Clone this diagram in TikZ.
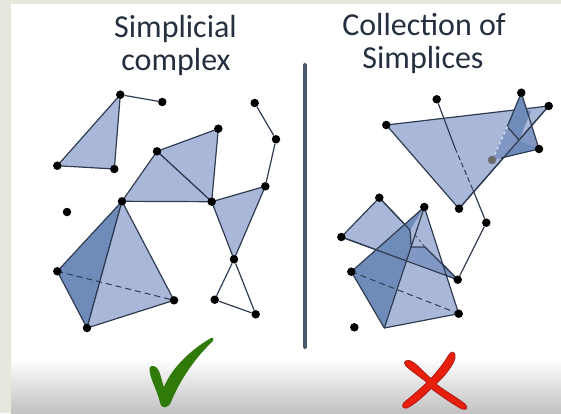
\documentclass[tikz,border=0pt]{standalone}
\usepackage{fontspec}
\setmainfont{Carlito}
\usetikzlibrary{backgrounds}
\definecolor{tribg}{HTML}{E6E8DE}
\definecolor{lightface}{HTML}{A9B8D8}
\definecolor{darkface}{HTML}{6F8BB9}
\definecolor{midface}{HTML}{8298C4}
\definecolor{edgecol}{HTML}{2F3C52}
\definecolor{divcol}{HTML}{4A586F}
\definecolor{titlecol}{HTML}{252F3F}
\definecolor{checkcol}{HTML}{2F7A08}
\definecolor{crosscol}{HTML}{E81F0C}
\definecolor{crossedge}{HTML}{A81A14}
\tikzset{
  x=1pt,y=-1pt,
  dot/.style={circle,fill=black,draw=none,inner sep=0pt,minimum size=8.5pt},
  greydot/.style={circle,fill=gray!85!black,draw=none,inner sep=0pt,minimum size=8.5pt},
  edge/.style={draw=edgecol,line width=1.2pt,line join=round},
  lface/.style={fill=lightface},
  dface/.style={fill=darkface},
  mface/.style={fill=midface},
  hidden/.style={edgecol,line width=1pt,dash pattern=on 6pt off 4pt},
  title/.style={text=titlecol,font=\fontsize{32}{32}\selectfont,anchor=base,inner sep=0pt}
}
\begin{document}
\begin{tikzpicture}
\useasboundingbox (0,0) rectangle (561,413);
% left dots
\node[dot] (a) at (120.3,94.7) {};
\node[dot] (b) at (162.3,102) {};
\node[dot] (c) at (57.3,165.7) {};
\node[dot] (d) at (114.3,169) {};
\node[dot] (e) at (157,151.3) {};
\node[dot] (f) at (218.3,128.7) {};
\node[dot] (g) at (122,201.3) {};
\node[dot] (h) at (211.7,201.7) {};
\node[dot] (i) at (265.3,186.3) {};
\node[dot] (j) at (276,139.3) {};
\node[dot] (k) at (254.7,103) {};
\node[dot] (l) at (67,212) {};
\node[dot] (m) at (57.3,271.3) {};
\node[dot] (n) at (174,300.3) {};
\node[dot] (o) at (87,328) {};
\node[dot] (p) at (234,259.3) {};
\node[dot] (q) at (214.7,299.7) {};
\node[dot] (r) at (255.7,314.3) {};
% right dots
\node[dot] (A) at (436.7,99.3) {};
\node[dot] (B) at (521.3,92.7) {};
\node[dot] (C) at (548.7,106) {};
\node[dot] (D) at (386.3,125) {};
\node[dot] (E) at (539,149) {};
\node[greydot] (F) at (492,160) {};
\node[dot] (G) at (459,208.7) {};
\node[dot] (H) at (379.3,197.7) {};
\node[dot] (I) at (424.3,207) {};
\node[dot] (J) at (341.3,237) {};
\node[dot] (K) at (486.3,222.7) {};
\node[dot] (L) at (351.3,271.7) {};
\node[dot] (M) at (457.7,279.7) {};
\node[dot] (N) at (458.7,313.7) {};
\node[dot] (O) at (354.3,327.3) {};
\coordinate (P) at (384.3,328);
% titles
\node[title] (t1) at (175.5,37) {Simplicial};
\node[title] (t2) at (176,70) {complex};
\node[title] (t3) at (424,35) {Collection of};
\node[title] (t4) at (423,68) {Simplices};
\begin{scope}[on background layer]
  \fill[tribg] (0,0) rectangle (561,413);
  \fill[white] (11,4) rectangle (561,413);
  \shade[top color=white,bottom color=black!24] (11,358) rectangle (561,413);
  % divider
  \coordinate (d1) at (305,65);
  \coordinate (d2) at (305,347);
  \draw[divcol,line width=4pt,line cap=round] (d1) -- (d2);
  % left complex
  \draw[edge,lface] (a.center) -- (d.center) -- (c.center) -- cycle;
  \draw[edge] (a) -- (b);
  \draw[edge,lface] (e.center) -- (f.center) -- (h.center) -- cycle;
  \draw[edge,lface] (g.center) -- (e.center) -- (h.center) -- cycle;
  \draw[edge,lface] (h.center) -- (i.center) -- (p.center) -- cycle;
  \draw[edge] (i) -- (j) -- (k);
  \draw[edge] (p) -- (q) -- (r) -- (p);
  \draw[edge,dface] (g.center) -- (m.center) -- (o.center) -- cycle;
  \draw[edge,lface] (g.center) -- (n.center) -- (o.center) -- cycle;
  \draw[hidden] (m.center) -- (n.center);
  % right: big triangle and upper small triangle
  \fill[mface] (B.center) -- (E.center) -- (F.center) -- cycle;
  \draw[edge,lface] (D.center) -- (C.center) -- (G.center) -- cycle;
  \coordinate (s1) at (507.3,126.7);
  \coordinate (s2) at (519,140);
  \coordinate (s3) at (501,158);
  \fill[darkface] (B.center) -- (s1) -- (s2) -- (E.center) -- (s3) -- (F.center) -- cycle;
  \fill[midface] (s1) -- (s2) -- (s3) -- (F.center) -- cycle;
  \fill[darkface] (B.center) -- (s1) -- (s2) -- (531,111.5) -- (527,110) -- cycle;
  \draw[edge] (B.center) -- (E.center) -- (s3);
  \draw[edge] (B.center) -- (s1) -- (s2);
  \draw[edge] (G.center) -- (C.center);
  \draw[lightface!55!white,line width=1.6pt,dash pattern=on 3pt off 2.5pt] (s1) -- (F.center);
  % connector through big triangle
  \coordinate (u1) at (455,148);
  \coordinate (u2) at (473,190);
  \draw[edge] (A) -- (u1);
  \draw[edgecol,line width=1pt,dash pattern=on 5pt off 3pt] (u1) -- (u2);
  \draw[edge] (u2) -- (K) -- (M);
  % lower: triangle and tetrahedron
  \draw[edge,lface] (H.center) -- (M.center) -- (J.center) -- cycle;
  \coordinate (v1) at (410,230);
  \coordinate (v2) at (411.3,247);
  \coordinate (v3) at (425,247);
  \fill[lface] (I.center) -- (N.center) -- (P) -- cycle;
  \fill[dface] (I.center) -- (L.center) -- (P) -- cycle;
  % overlap areas
  \fill[lface] (I.center) -- (v3) -- (v2) -- (v1) -- cycle;
  \fill[darkface] (I.center) -- (v1) -- (v2) -- (407,260) -- (377,249) -- cycle;
  \fill[midface] (v2) -- (v3) -- (M.center) -- (407,260) -- cycle;
  \draw[edge] (H.center) -- (v1) -- (v2) -- (v3) -- (M.center);
  \draw[edge] (J.center) -- (M.center);
  \draw[edge] (I.center) -- (L.center) -- (P) -- cycle;
  \draw[edge] (I.center) -- (N.center) -- (P);
  \draw[hidden] (L.center) -- (N.center);
  \draw[edgecol,line width=0.8pt,dash pattern=on 3pt off 3pt] (v1)+(5,5) -- (v3);
  % check mark
  \fill[checkcol] (149.5,368) .. controls (151,364) and (157,366) .. (159,371)
     .. controls (161,376) and (162,382) .. (164,387)
     .. controls (172,367) and (192,349) .. (211,338)
     .. controls (214,337) and (214,340) .. (212,342)
     .. controls (195,358) and (180,380) .. (171,402)
     .. controls (168,409) and (161,409) .. (160,403)
     .. controls (158,391) and (149,378) .. (149.5,368) -- cycle;
  % cross
  \draw[crossedge,fill=crosscol,line width=0.7pt,line join=round]
     (405.5,361) .. controls (409,358) and (416,364) .. (422,370)
     .. controls (425,373) and (428,376) .. (431,378.5)
     .. controls (437,372) and (444,363) .. (449,354.5)
     .. controls (452,350) and (456,352) .. (455,358)
     .. controls (453,366) and (443,378) .. (436,384)
     .. controls (445,391) and (456,397) .. (465,404)
     .. controls (469,408) and (466,411) .. (461,408.5)
     .. controls (451,403) and (440,395) .. (431,388.5)
     .. controls (424,396) and (415,404) .. (407,408)
     .. controls (403,409) and (401,406) .. (404,402.5)
     .. controls (411,397) and (420,389) .. (427,382.5)
     .. controls (419,376) and (410,370) .. (406,366)
     .. controls (404,364) and (404,362) .. (405.5,361) -- cycle;
\end{scope}
\end{tikzpicture}
\end{document}
